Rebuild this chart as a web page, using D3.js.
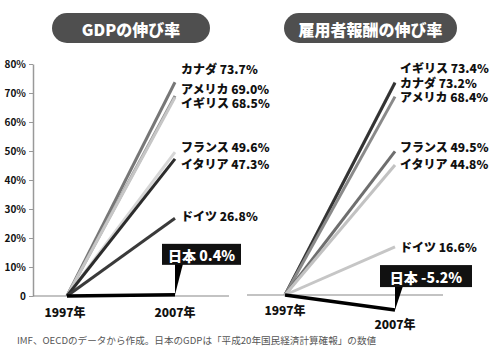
<!DOCTYPE html>
<html><head><meta charset="utf-8">
<script src="https://cdn.jsdelivr.net/npm/d3@7"></script>
<style>body{margin:0;background:#fff}svg{display:block}</style>
</head><body><svg id="c" width="490" height="364"></svg>
<script>
// ---- data ----
const years = ["1997", "2007"];
const yearLabels = ["1997年", "2007年"];
const yTicks = [0, 10, 20, 30, 40, 50, 60, 70, 80];
const titles = ["GDPの伸び率", "雇用者報酬の伸び率"];
const gdpCountries = ["カナダ", "アメリカ", "イギリス", "フランス", "イタリア", "ドイツ", "日本"];
const gdpValues = [73.7, 69.0, 68.5, 49.6, 47.3, 26.8, 0.4];
const compCountries = ["イギリス", "カナダ", "アメリカ", "フランス", "イタリア", "ドイツ", "日本"];
const compValues = [73.4, 73.2, 68.4, 49.5, 44.8, 16.6, -5.2];
const note = "IMF、OECDのデータから作成。日本のGDPは「平成20年国民経済計算確報」の数値";

// ---- layout / style ----
const FONT = "'Noto Sans CJK JP','Noto Sans',sans-serif";
const svg = d3.select("#c");

const panels = [
  { countries: gdpCountries, values: gdpValues, title: titles[0],
    x0: 67, x1: 175, yTop: 64, yBase: 296, baseFrom: 33, baseTo: 229,
    pill: [52, 13, 158, 30], labelX: 181, axis: true,
    colors: {"カナダ":"#777","アメリカ":"#8e8e8e","イギリス":"#c6c6c6","フランス":"#d6d6d6","イタリア":"#2c2c2c","ドイツ":"#3a3a3a","日本":"#000"},
    dy: {"カナダ":-13.5,"アメリカ":-7,"イギリス":5.5,"フランス":-5.5,"イタリア":4.5,"ドイツ":-3},
    yearPos: [[65, 311], [175, 311]],
    box: {dx: -13, dy: -51, w: 79, h: 21} },
  { countries: compCountries, values: compValues, title: titles[1],
    x0: 285, x1: 395, yTop: 63, yBase: 295, baseFrom: 247, baseTo: 443,
    pill: [284, 13, 173, 30], labelX: 400, axis: false,
    colors: {"イギリス":"#c2c2c2","カナダ":"#333","アメリカ":"#8a8a8a","フランス":"#6e6e6e","イタリア":"#c2c2c2","ドイツ":"#c6c6c6","日本":"#000"},
    dy: {"イギリス":-14.5,"カナダ":-0.5,"アメリカ":0,"フランス":-4.5,"イタリア":-2,"ドイツ":0},
    yearPos: [[285, 309], [395, 323]],
    box: {dx: -15, dy: -45, w: 92, h: 22} }
];

panels.forEach(p => {
  const g = svg.append("g");
  const x = d3.scalePoint().domain(years).range([p.x0, p.x1]);
  const y = d3.scaleLinear().domain([0, 80]).range([p.yBase, p.yTop]);

  // title pill
  g.append("rect").attr("x", p.pill[0]).attr("y", p.pill[1]).attr("width", p.pill[2]).attr("height", p.pill[3])
    .attr("rx", 15).attr("fill", "#4f4f4f");
  g.append("text").attr("x", p.pill[0] + p.pill[2] / 2).attr("y", p.pill[1] + p.pill[3] / 2 + 1)
    .attr("text-anchor", "middle").attr("dominant-baseline", "central")
    .attr("font-family", FONT).attr("font-weight", 900).attr("font-size", 16).attr("fill", "#fff")
    .text(p.title);

  // y axis
  if (p.axis) {
    const ax = g.append("g").attr("transform", `translate(${p.baseFrom},0)`)
      .call(d3.axisLeft(y).tickValues(yTicks).tickSize(4).tickSizeOuter(0).tickPadding(3)
        .tickFormat(d => d === 0 ? "0" : d + "%"));
    ax.select(".domain").attr("stroke", "#999").attr("stroke-width", 1.5);
    ax.selectAll(".tick line").attr("stroke", "#999");
    ax.selectAll(".tick text").attr("font-family", FONT).attr("font-weight", 700)
      .attr("font-size", 10).attr("fill", "#111");
  }
  // baseline
  g.append("line").attr("x1", p.baseFrom).attr("x2", p.baseTo).attr("y1", y(0)).attr("y2", y(0))
    .attr("stroke", "#888").attr("stroke-width", 1.2);

  // lines
  const line = d3.line().x(d => x(d[0])).y(d => y(d[1]));
  const rows = p.countries.map((c, i) => ({ c, v: p.values[i] }));
  rows.filter(r => r.c !== "日本").forEach(r => {
    g.append("path").datum([[years[0], 0], [years[1], r.v]]).attr("d", line)
      .attr("fill", "none").attr("stroke", p.colors[r.c]).attr("stroke-width", 3);
  });
  const jp = rows.find(r => r.c === "日本");
  g.append("path").datum([[years[0], 0], [years[1], jp.v]]).attr("d", line)
    .attr("fill", "none").attr("stroke", "#000").attr("stroke-width", 3.5);

  // labels
  rows.filter(r => r.c !== "日本").forEach(r => {
    g.append("text").attr("x", p.labelX).attr("y", y(r.v) + p.dy[r.c])
      .attr("dominant-baseline", "central").attr("font-family", FONT).attr("font-weight", 900)
      .attr("font-size", 12).attr("fill", "#111")
      .text(`${r.c} ${r.v.toFixed(1)}%`);
  });

  // Japan callout
  const ex = x(years[1]), ey = y(jp.v);
  const bx = ex + p.box.dx, by = ey + p.box.dy;
  g.append("polygon").attr("points", `${ex},${by + p.box.h - 1} ${ex + 8},${by + p.box.h - 1} ${ex},${ey}`)
    .attr("fill", "#000");
  g.append("rect").attr("x", bx).attr("y", by).attr("width", p.box.w).attr("height", p.box.h).attr("fill", "#111");
  g.append("text").attr("x", bx + p.box.w / 2).attr("y", by + p.box.h / 2 + 1)
    .attr("text-anchor", "middle").attr("dominant-baseline", "central")
    .attr("font-family", FONT).attr("font-weight", 900).attr("font-size", 14).attr("fill", "#fff")
    .text(`${jp.c} ${jp.v.toFixed(1)}%`);

  // year labels
  yearLabels.forEach((t, i) => {
    g.append("text").attr("x", p.yearPos[i][0]).attr("y", p.yearPos[i][1])
      .attr("text-anchor", "middle").attr("dominant-baseline", "central")
      .attr("font-family", FONT).attr("font-weight", 900).attr("font-size", 12).attr("fill", "#111")
      .text(t);
  });
});

svg.append("text").attr("x", 17).attr("y", 340).attr("dominant-baseline", "central")
  .attr("font-family", FONT).attr("font-size", 9.6).attr("fill", "#555").text(note);
</script>
</body></html>
